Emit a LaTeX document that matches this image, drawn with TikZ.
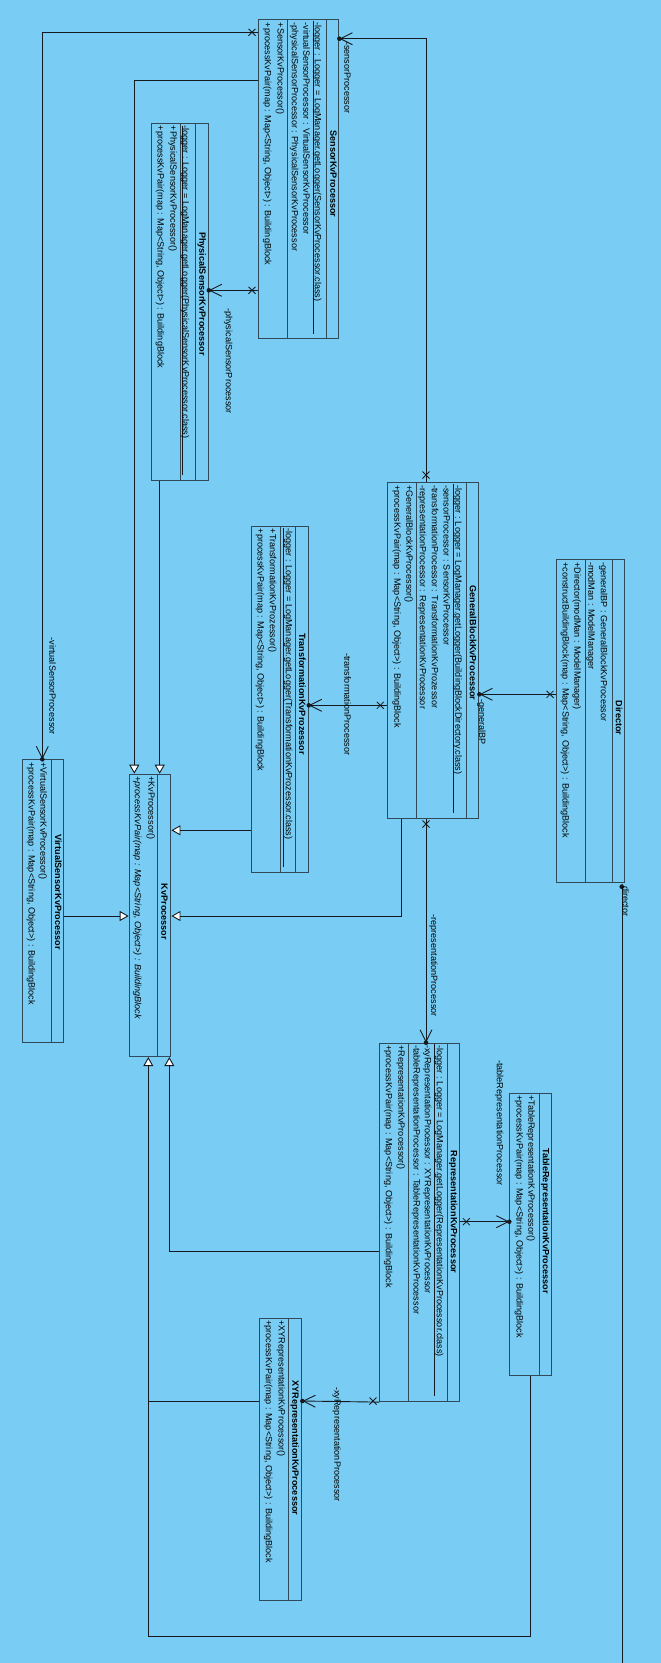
\documentclass[tikz,border=0pt]{standalone}
\usepackage{fontspec}
\setmainfont{Liberation Sans}
\usetikzlibrary{arrows.meta}
\definecolor{bgc}{RGB}{121,205,244}
\definecolor{boxc}{RGB}{48,74,90}
\definecolor{linec}{RGB}{22,26,32}
\newcommand\fsz{\fontsize{9.1}{11}\selectfont}
\tikzset{
 cls/.style={draw=boxc, line width=1.1pt, inner sep=0pt, anchor=north west},
 divl/.style={draw=boxc, line width=1pt},
 ulin/.style={draw=linec, line width=0.7pt},
 txt/.style={rotate=-90, anchor=west, inner sep=0pt, font=\fsz, text height=6.6pt, text depth=1.9pt},
 txtE/.style={txt, anchor=east},
 ttl/.style={rotate=-90, anchor=center, inner sep=0pt, font=\fsz\bfseries, text height=6.6pt, text depth=1.9pt},
 conn/.style={draw=linec, line width=0.9pt},
 genr/.style={-{Triangle[open, length=9pt, width=10pt, fill=white]}},
 asc/.style={-{Straight Barb[length=12pt, width=12pt]}},
 xmk/.pic={\draw[linec, line width=0.8pt] (-3.5,-3.5) -- (3.5,3.5) (-3.5,3.5) -- (3.5,-3.5);}
}
\begin{document}
\begin{tikzpicture}[x=1pt,y=-1pt]
\fill[bgc] (0,0) rectangle (661,1663);
\useasboundingbox (0,0) rectangle (661,1663);

% ---------- class boxes ----------
\node[cls, minimum width=80pt,   minimum height=319pt]   (sensor) at (258.3,19.3) {};
\node[cls, minimum width=56.7pt, minimum height=356.7pt] (phys)   at (151,123.3) {};
\node[cls, minimum width=91.6pt, minimum height=335.4pt] (gen)    at (386.7,482.3) {};
\node[cls, minimum width=68.3pt, minimum height=323pt]   (dir)    at (556,559.3) {};
\node[cls, minimum width=56.7pt, minimum height=346pt]   (trans)  at (251,526) {};
\node[cls, minimum width=41.6pt, minimum height=282.4pt] (virt)   at (21.7,759.3) {};
\node[cls, minimum width=41.6pt, minimum height=282.3pt] (kv)     at (128.7,773.7) {};
\node[cls, minimum width=80pt,   minimum height=358.3pt] (rep)    at (379.3,1042.7) {};
\node[cls, minimum width=42pt,   minimum height=282.3pt] (table)  at (509.3,1092.7) {};
\node[cls, minimum width=42pt,   minimum height=282.3pt] (xy)     at (259.3,1317.7) {};

% ---------- compartment dividers ----------
\draw[divl] (sensor.north -| 326.7,0) -- (sensor.south -| 326.7,0);
\draw[divl] (sensor.north -| 287.7,0) -- (sensor.south -| 287.7,0);
\draw[divl] (phys.north -| 195.7,0) -- (phys.south -| 195.7,0);
\draw[divl] (phys.north -| 180.3,0) -- (phys.south -| 180.3,0);
\draw[divl] (gen.north -| 466.3,0) -- (gen.south -| 466.3,0);
\draw[divl] (gen.north -| 416,0) -- (gen.south -| 416,0);
\draw[divl] (dir.north -| 612,0) -- (dir.south -| 612,0);
\draw[divl] (dir.north -| 585.5,0) -- (dir.south -| 585.5,0);
\draw[divl] (trans.north -| 295,0) -- (trans.south -| 295,0);
\draw[divl] (trans.north -| 280.7,0) -- (trans.south -| 280.7,0);
\draw[divl] (virt.north -| 51.7,0) -- (virt.south -| 51.7,0);
\draw[divl] (kv.north -| 157.3,0) -- (kv.south -| 157.3,0);
\draw[divl] (rep.north -| 447.3,0) -- (rep.south -| 447.3,0);
\draw[divl] (rep.north -| 408.3,0) -- (rep.south -| 408.3,0);
\draw[divl] (table.north -| 539,0) -- (table.south -| 539,0);
\draw[divl] (xy.north -| 288.3,0) -- (xy.south -| 288.3,0);

% ---------- static underlines ----------
\draw[ulin] (313.3,21) -- (313.3,334);
\draw[ulin] (182,126) -- (182,475);
\draw[ulin] (453.3,484) -- (453.3,813);
\draw[ulin] (283.4,528) -- (283.4,867);
\draw[ulin] (434.3,1044) -- (434.3,1396);

% ---------- titles ----------
\node[ttl] (tSensor) at (332.7,174) {SensorKvProcessor};
\node[ttl] (tPhys)   at (201.7,294) {PhysicalSensorKvProcessor};
\node[ttl] (tGen)    at (472.3,643) {GeneralBlockKvProcessor};
\node[ttl] (tDir)    at (618.3,718) {Director};
\node[ttl] (tTrans)  at (301.5,694) {TransformationKvProzessor};
\node[ttl] (tVirt)   at (57.5,892) {VirtualSensorKvProcessor};
\node[ttl] (tKv)     at (163.8,912) {KvProcessor};
\node[ttl] (tRep)    at (453.3,1212) {RepresentationKvProcessor};
\node[ttl] (tTable)  at (545.3,1221) {TableRepresentationKvProcessor};
\node[ttl] (tXY)     at (294.8,1448) {XYRepresentationKvProcessor};

% ---------- members ----------
\node[txt] (s1) at (317.3,22.5) {-logger : Logger = LogManager.getLogger(SensorKvProcessor.class)};
\node[txt] (s2) at (305.8,22.5) {-virtualSensorProcessor : VirtualSensorKvProcessor};
\node[txt] (s3) at (294.3,22.5) {-physicalSensorProcessor : PhysicalSensorKvProcessor};
\node[txt] (s4) at (280,22.5) {+SensorKvProcessor()};
\node[txt] (s5) at (267.3,22.5) {+processKvPair(map : Map<String, Object>) : BuildingBlock};

\node[txt] (p1) at (185,125.5) {-logger : Logger = LogManager.getLogger(PhysicalSensorKvProcessor.class)};
\node[txt] (p2) at (172.7,125.5) {+PhysicalSensorKvProcessor()};
\node[txt] (p3) at (160,125.5) {+processKvPair(map : Map<String, Object>) : BuildingBlock};

\node[txt] (g1) at (457.7,485) {-logger : Logger = LogManager.getLogger(BuildingBlockDirectory.class)};
\node[txt] (g2) at (446,485) {-sensorProcessor : SensorKvProcessor};
\node[txt] (g3) at (434.3,485) {-transformationProcessor : TransformationKvProzessor};
\node[txt] (g4) at (422.3,485) {-representationProcessor : RepresentationKvProcessor};
\node[txt] (g5) at (408.7,485) {+GeneralBlockKvProcessor()};
\node[txt] (g6) at (396.7,485) {+processKvPair(map : Map<String, Object>) : BuildingBlock};

\node[txt] (d1) at (603.3,562) {-generalBP : GeneralBlockKvProcessor};
\node[txt] (d2) at (590.7,562) {-modMan : ModelManager};
\node[txt] (d3) at (576.7,562) {+Director(modMan : ModelManager)};
\node[txt] (d4) at (565,562) {+constructBuildingBlock(map : Map<String, Object>) : BuildingBlock};

\node[txt] (t1) at (288.3,528.5) {-logger : Logger = LogManager.getLogger(TransformationKvProzessor.class)};
\node[txt] (t2) at (272.3,528.5) {+TransformationKvProzessor()};
\node[txt] (t3) at (260,528.5) {+processKvPair(map : Map<String, Object>) : BuildingBlock};

\node[txt] (v1) at (42.7,762) {+VirtualSensorKvProcessor()};
\node[txt] (v2) at (31,762) {+processKvPair(map : Map<String, Object>) : BuildingBlock};

\node[txt] (k1) at (150.7,776) {+KvProcessor()};
\node[txt] (k2) at (137.3,776) {\itshape +processKvPair(map : Map<String, Object>) : BuildingBlock};

\node[txt] (r1) at (439.3,1045) {-logger : Logger = LogManager.getLogger(RepresentationKvProcessor.class)};
\node[txt] (r2) at (427.3,1045) {-xyRepresentationProcessor : XYRepresentationKvProcessor};
\node[txt] (r3) at (416,1045) {-tableRepresentationProcessor : TableRepresentationKvProcessor};
\node[txt] (r4) at (400.7,1045) {+RepresentationKvProcessor()};
\node[txt] (r5) at (388.3,1045) {+processKvPair(map : Map<String, Object>) : BuildingBlock};

\node[txt] (tb1) at (530.7,1095) {+TableRepresentationKvProcessor()};
\node[txt] (tb2) at (519,1095) {+processKvPair(map : Map<String, Object>) : BuildingBlock};

\node[txt] (x1) at (281,1320) {+XYRepresentationKvProcessor()};
\node[txt] (x2) at (268.3,1320) {+processKvPair(map : Map<String, Object>) : BuildingBlock};

% ---------- helper coordinates ----------
\coordinate (jXY) at (148.3,1401);
\coordinate (jTab) at (148.3,1636);
\coordinate (dirTop) at (622,884);
\coordinate (dirEnd) at (622,1663);

% ---------- generalizations ----------
\draw[conn, genr] (sensor.west |- 0,80.3) -| (kv.north -| 134.3,0);
\draw[conn, genr] (phys.south -| 159.7,0) -- (kv.north -| 159.7,0);
\draw[conn, genr] (trans.west |- 0,830.3) -- (kv.east |- 0,830.3);
\draw[conn, genr] (gen.south -| 401,0) |- (kv.east |- 0,916);
\draw[conn, genr] (virt.east |- 0,916) -- (kv.west |- 0,916);
\draw[conn, genr] (rep.west |- 0,1251) -| (kv.south -| 169.3,0);
\draw[conn] (xy.west |- 0,1401) -- (jXY);
\draw[conn, genr] (table.south -| 530.3,0) |- (jTab) -- (kv.south -| 148.3,0);

% ---------- associations ----------
\draw[conn, asc] (gen.north -| 426,0) |- (sensor.east |- 0,38.7);
\pic at (426,475) {xmk};
\fill[linec] (sensor.east |- 0,38.7) circle[radius=2.3pt];

\draw[conn, asc] (sensor.west |- 0,32.3) -| (virt.north -| 42.3,0);
\pic at (252,32.3) {xmk};
\fill[linec] (virt.north -| 42.3,0) circle[radius=2.3pt];

\draw[conn, asc] (sensor.west |- 0,290.3) -- (phys.east |- 0,290.3);
\pic at (252,290.3) {xmk};
\fill[linec] (phys.east |- 0,290.3) circle[radius=2.3pt];

\draw[conn, asc] (gen.west |- 0,705.3) -- (trans.east |- 0,705.3);
\pic at (380.3,705.3) {xmk};
\fill[linec] (trans.east |- 0,705.3) circle[radius=2.3pt];

\draw[conn, asc] (dir.west |- 0,694.3) -- (gen.east |- 0,694.3);
\pic at (550,694.3) {xmk};
\fill[linec] (gen.east |- 0,694.3) circle[radius=2.3pt];

\draw[conn, asc] (gen.south -| 426,0) -- (rep.north -| 426,0);
\pic at (426,824) {xmk};
\fill[linec] (rep.north -| 426,0) circle[radius=2.3pt];

\draw[conn, asc] (rep.east |- 0,1221.7) -- (table.west |- 0,1221.7);
\pic at (466.3,1221.7) {xmk};
\fill[linec] (table.west |- 0,1221.7) circle[radius=2.3pt];

\draw[conn, asc] (rep.south west) -- (xy.east |- 0,1401);
\pic at (373,1401) {xmk};
\fill[linec] (xy.east |- 0,1401) circle[radius=2.3pt];

\draw[conn] (dirTop) -- (dirEnd);
\fill[linec] (621.7,886.7) circle[radius=2.3pt];

% ---------- role labels ----------
\node[txt]  (lSens)  at (346.7,42) {-sensorProcessor};
\node[txtE] (lVirt)  at (51.7,735) {-virtualSensorProcessor};
\node[txt]  (lPhys)  at (228.3,308) {-physicalSensorProcessor};
\node[txt]  (lTrans) at (346.7,653) {-transformationProcessor};
\node[txt]  (lGen)   at (481.5,699) {-generalBP};
\node[txt]  (lDir)   at (625,886) {director};
\node[txtE] (lRep)   at (433.5,1017) {-representationProcessor};
\node[txt]  (lTab)   at (499.3,1060) {-tableRepresentationProcessor};
\node[txt]  (lXY)    at (336.7,1387) {-xyRepresentationProcessor};
\end{tikzpicture}
\end{document}
